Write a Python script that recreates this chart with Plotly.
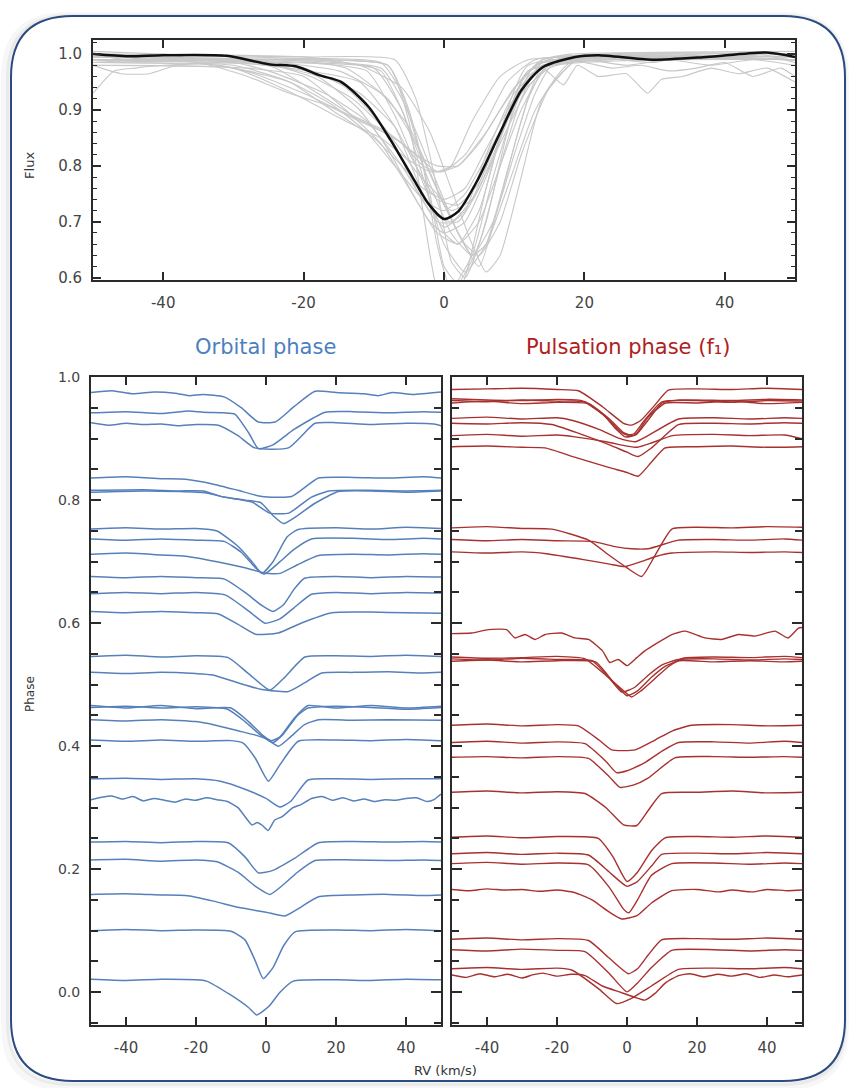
import plotly.graph_objects as go

# ---------------- DATA ----------------
# Top panel: mean profile (black) and individual profiles (grey); RV in km/s, normalised flux
MEAN_RV = [-50, -45, -40, -31, -25, -21, -17.7, -14.6, -10.7, -7.6, -4.5, -2.2, 0, 2, 4.8, 7.9, 11, 14.1, 18.7, 22, 29.6, 37.4, 45.9, 50]
MEAN_FLUX = [1.0, 0.996, 0.998, 0.997, 0.982, 0.978, 0.962, 0.95, 0.905, 0.846, 0.78, 0.732, 0.705, 0.718, 0.775, 0.857, 0.935, 0.977, 0.995, 0.998, 0.99, 0.995, 1.003, 0.995]

GREY_PROFILES = [
    ([-50, -30, -9, -6, -3, -1, 1, 4, 7, 10, 13, 50], [0.995, 0.99, 0.985, 0.93, 0.80, 0.66, 0.58, 0.64, 0.78, 0.90, 0.98, 0.99]),
    ([-50, -25, -8, -5, -2, 0, 2, 5, 8, 11, 14, 50], [0.985, 0.99, 0.98, 0.90, 0.75, 0.62, 0.59, 0.66, 0.80, 0.92, 0.985, 0.99]),
    ([-50, -20, -7, -4, -1, 1, 3, 6, 9, 12, 50], [1.0, 0.995, 0.99, 0.92, 0.76, 0.63, 0.60, 0.70, 0.86, 0.97, 0.995]),
    ([-50, -22, -10, -6, -3, 0, 3, 6, 9, 12, 15, 50], [0.99, 0.985, 0.975, 0.90, 0.78, 0.66, 0.61, 0.66, 0.79, 0.92, 0.985, 0.99]),
    ([-50, -18, -9, -6, -3, 1, 4, 7, 10, 13, 16, 50], [1.0, 0.99, 0.97, 0.90, 0.80, 0.68, 0.64, 0.70, 0.82, 0.93, 0.99, 1.0]),
    ([-50, -20, -11, -7, -3, 0, 2, 5, 8, 11, 14, 50], [0.995, 0.985, 0.97, 0.89, 0.77, 0.68, 0.66, 0.72, 0.85, 0.95, 0.99, 0.995]),
    ([-50, -20, -8, -5, -3, -1, 1, 3, 6, 9, 12, 50], [0.99, 0.99, 0.98, 0.88, 0.72, 0.58, 0.55, 0.60, 0.76, 0.90, 0.98, 0.99]),
    ([-50, -25, -9, -6, -2, 2, 5, 8, 11, 14, 50], [0.99, 0.99, 0.975, 0.92, 0.80, 0.68, 0.62, 0.74, 0.88, 0.975, 0.99]),
    ([-50, -28, -20, -14, -9, -5, -2, 0, 3, 6, 9, 12, 50], [0.98, 0.975, 0.96, 0.90, 0.84, 0.76, 0.70, 0.68, 0.70, 0.78, 0.88, 0.97, 0.99]),
    ([-50, -25, -18, -12, -8, -4, -1, 2, 5, 8, 11, 15, 50], [0.99, 0.98, 0.96, 0.90, 0.83, 0.74, 0.68, 0.66, 0.70, 0.80, 0.90, 0.98, 0.995]),
    ([-50, -30, -22, -16, -10, -6, -3, 0, 3, 6, 10, 14, 50], [0.985, 0.98, 0.95, 0.90, 0.85, 0.80, 0.76, 0.74, 0.76, 0.83, 0.92, 0.98, 0.99]),
    ([-50, -26, -19, -13, -8, -4, -1, 1, 4, 8, 12, 16, 50], [0.99, 0.985, 0.96, 0.92, 0.86, 0.79, 0.75, 0.72, 0.74, 0.84, 0.94, 0.99, 0.995]),
    ([-50, -32, -27, -20, -15, -10, -6, -3, -1, 1, 4, 8, 12, 50], [0.985, 0.98, 0.965, 0.93, 0.90, 0.87, 0.84, 0.80, 0.79, 0.80, 0.88, 0.96, 0.99, 0.99]),
    ([-50, -35, -28, -22, -17, -12, -7, -4, -1, 2, 6, 10, 14, 50], [0.99, 0.985, 0.96, 0.93, 0.91, 0.88, 0.85, 0.82, 0.79, 0.80, 0.86, 0.94, 0.985, 0.99]),
    ([-50, -30, -25, -20, -14, -9, -5, -2, 0, 3, 6, 9, 13, 50], [0.98, 0.975, 0.95, 0.92, 0.88, 0.85, 0.81, 0.79, 0.79, 0.82, 0.88, 0.95, 0.99, 0.99]),
    ([-50, -28, -24, -18, -13, -8, -4, -1, 2, 5, 8, 12, 16, 50], [0.995, 0.99, 0.975, 0.93, 0.89, 0.86, 0.82, 0.80, 0.80, 0.84, 0.90, 0.97, 0.995, 0.99]),
    ([-50, -24, -15, -9, -5, -1, 2, 4, 6, 9, 13, 18, 50], [0.99, 0.985, 0.97, 0.93, 0.87, 0.76, 0.68, 0.64, 0.66, 0.76, 0.90, 0.985, 0.99]),
    ([-50, -20, -12, -6, -2, 1, 4, 6, 8, 11, 14, 19, 50], [1.0, 0.995, 0.98, 0.94, 0.86, 0.76, 0.66, 0.61, 0.64, 0.78, 0.92, 0.99, 1.0]),
    ([-50, -22, -14, -8, -4, 0, 3, 5, 8, 11, 15, 19, 50], [0.99, 0.99, 0.975, 0.92, 0.84, 0.73, 0.66, 0.64, 0.70, 0.82, 0.94, 0.99, 0.99]),
    ([-50, -47, -44, -40, -30, -22, -12, -7, -3, 0, 3, 6, 10, 14, 17, 19, 22, 26, 29, 31, 34, 38, 42, 46, 50],
     [0.93, 0.97, 0.975, 0.98, 0.985, 0.975, 0.95, 0.87, 0.75, 0.69, 0.72, 0.82, 0.93, 0.975, 0.945, 0.98, 0.96, 0.965, 0.93, 0.955, 0.96, 0.975, 0.965, 0.975, 0.95]),
    ([-50, -46, -42, -38, -30, -25, -17, -11, -6, -2, 1, 4, 8, 12, 16, 20, 24, 28, 32, 36, 40, 44, 48, 50],
     [0.98, 0.965, 0.965, 0.98, 0.985, 0.97, 0.93, 0.88, 0.80, 0.72, 0.70, 0.74, 0.86, 0.96, 0.99, 0.985, 0.975, 0.98, 0.97, 0.975, 0.985, 0.96, 0.975, 0.96]),
    ([-50, -45, -40, -35, -28, -20, -14, -8, -4, -1, 2, 5, 9, 13, 17, 21, 25, 30, 35, 40, 45, 50],
     [1.0, 0.99, 1.0, 0.99, 0.985, 0.975, 0.94, 0.86, 0.76, 0.70, 0.70, 0.76, 0.88, 0.97, 0.99, 1.0, 0.99, 0.985, 1.0, 0.99, 1.0, 0.985]),
    ([-50, -40, -30, -24, -18, -12, -7, -4, -1, 2, 5, 8, 11, 14, 18, 50],
     [1.005, 1.0, 0.995, 0.985, 0.965, 0.93, 0.87, 0.80, 0.74, 0.73, 0.77, 0.86, 0.95, 0.99, 1.0, 1.005]),
    ([-50, -42, -35, -28, -22, -16, -11, -7, -3, 0, 3, 7, 11, 15, 20, 26, 32, 38, 44, 50],
     [0.985, 0.99, 0.985, 0.97, 0.95, 0.91, 0.86, 0.80, 0.74, 0.72, 0.75, 0.84, 0.93, 0.975, 0.99, 0.98, 0.99, 0.98, 0.99, 0.98]),
]

# Lower left: profiles stacked by orbital phase (RV, phase-offset flux)
ORBITAL_PROFILES = [
    ([-50, -44, -38, -32, -26, -22, -18, -12, -7, -2.2, 2.6, 8, 14, 20, 28, 32, 36, 42, 50],
     [0.975, 0.978, 0.973, 0.976, 0.974, 0.970, 0.972, 0.968, 0.950, 0.927, 0.927, 0.952, 0.977, 0.975, 0.973, 0.970, 0.975, 0.972, 0.976]),
    ([-50, -40, -30, -22, -18, -12, -8.9, -5, -2.2, 2, 8, 16.9, 25, 35, 45, 50],
     [0.942, 0.944, 0.941, 0.945, 0.943, 0.942, 0.940, 0.910, 0.884, 0.890, 0.915, 0.943, 0.944, 0.942, 0.944, 0.943]),
    ([-50, -45, -40, -35, -30, -25, -20, -13.6, -8, -3.2, 6.4, 14, 20, 30, 40, 48, 50],
     [0.926, 0.922, 0.925, 0.923, 0.924, 0.921, 0.923, 0.922, 0.905, 0.885, 0.885, 0.925, 0.926, 0.923, 0.925, 0.924, 0.921]),
    ([-50, -40, -30, -23, -15, -8, -1.2, 7.3, 15, 25, 35, 45, 50],
     [0.836, 0.838, 0.835, 0.834, 0.826, 0.816, 0.806, 0.806, 0.836, 0.837, 0.836, 0.838, 0.836]),
    ([-50, -35, -25, -18, -12, -4, 1, 6.5, 13, 18, 30, 40, 50],
     [0.816, 0.817, 0.815, 0.815, 0.805, 0.797, 0.779, 0.779, 0.805, 0.815, 0.816, 0.815, 0.816]),
    ([-50, -35, -25, -17.4, -12, -6, -1.5, 2, 5, 9, 14, 20.7, 30, 40, 50],
     [0.813, 0.815, 0.814, 0.812, 0.805, 0.800, 0.796, 0.775, 0.762, 0.775, 0.795, 0.814, 0.815, 0.813, 0.815]),
    ([-50, -40, -30, -20, -14, -8, -4, -1.2, 2, 6, 9, 20, 30, 40, 50],
     [0.753, 0.755, 0.753, 0.754, 0.750, 0.725, 0.700, 0.681, 0.700, 0.740, 0.752, 0.755, 0.753, 0.756, 0.754]),
    ([-50, -40, -30, -20, -12, -7, -3, -0.5, 4, 8, 13, 25, 35, 45, 50],
     [0.737, 0.735, 0.737, 0.735, 0.733, 0.715, 0.690, 0.680, 0.700, 0.720, 0.737, 0.738, 0.736, 0.738, 0.737]),
    ([-50, -40, -30, -23, -14, -6, 0, 4, 9, 15, 25, 35, 45, 50],
     [0.712, 0.714, 0.711, 0.709, 0.700, 0.690, 0.681, 0.681, 0.695, 0.710, 0.712, 0.711, 0.713, 0.712]),
    ([-50, -40, -30, -20, -12, -6, -1, 2, 5, 8, 11, 20, 30, 40, 50],
     [0.676, 0.674, 0.676, 0.674, 0.672, 0.650, 0.628, 0.619, 0.630, 0.655, 0.673, 0.676, 0.674, 0.676, 0.675]),
    ([-50, -40, -30, -20, -11.7, -5, -0.3, 4, 8, 13, 20, 30, 40, 50],
     [0.648, 0.650, 0.648, 0.650, 0.646, 0.620, 0.600, 0.607, 0.625, 0.647, 0.650, 0.648, 0.650, 0.649]),
    ([-50, -40, -30, -20, -13.6, -8, -3, 3.5, 10, 18.8, 30, 40, 50],
     [0.619, 0.617, 0.619, 0.617, 0.615, 0.598, 0.582, 0.584, 0.600, 0.617, 0.618, 0.617, 0.616]),
    ([-50, -40, -30, -20, -10.8, -5, 1.1, 5, 11.1, 20, 30, 40, 50],
     [0.546, 0.548, 0.545, 0.547, 0.544, 0.518, 0.491, 0.510, 0.545, 0.547, 0.546, 0.548, 0.546]),
    ([-50, -40, -30, -20, -15.5, -8, -1.2, 6.4, 11, 15.9, 25, 35, 45, 50],
     [0.520, 0.518, 0.520, 0.518, 0.516, 0.503, 0.492, 0.489, 0.503, 0.519, 0.520, 0.521, 0.519, 0.520]),
    ([-50, -40, -30, -20, -11, -6, -2, 2, 5, 9, 12, 20, 30, 40, 50],
     [0.463, 0.465, 0.462, 0.464, 0.460, 0.440, 0.420, 0.406, 0.420, 0.450, 0.462, 0.465, 0.463, 0.460, 0.463]),
    ([-50, -40, -30, -20, -10, -5, -1, 1.5, 4, 8, 12, 20, 30, 40, 50],
     [0.466, 0.462, 0.466, 0.461, 0.462, 0.440, 0.418, 0.409, 0.415, 0.445, 0.466, 0.462, 0.466, 0.462, 0.465]),
    ([-50, -40, -30, -20, -15, -8, -3, 0, 3.6, 7, 11, 15, 25, 35, 50],
     [0.443, 0.441, 0.443, 0.440, 0.435, 0.425, 0.418, 0.412, 0.400, 0.415, 0.435, 0.443, 0.442, 0.443, 0.442]),
    ([-50, -40, -30, -20, -10, -6.5, -3, 0.7, 4, 9.2, 20, 30, 40, 50],
     [0.410, 0.408, 0.410, 0.408, 0.409, 0.405, 0.380, 0.343, 0.370, 0.408, 0.410, 0.409, 0.411, 0.409]),
    ([-50, -40, -30, -20, -13, -6, 0, 4, 7, 12, 20, 30, 40, 50],
     [0.347, 0.348, 0.346, 0.347, 0.343, 0.330, 0.315, 0.301, 0.310, 0.345, 0.347, 0.346, 0.347, 0.347]),
    ([-50, -47, -44, -41, -38, -35, -32, -29, -26, -23, -20, -17, -14, -11, -8, -4, -2.5, -1, 0.6, 2.5, 4.5, 7.7, 10, 13, 16, 19, 22, 25, 28, 31, 34, 37, 40, 43, 46, 48, 50],
     [0.313, 0.317, 0.319, 0.314, 0.318, 0.311, 0.315, 0.312, 0.309, 0.314, 0.312, 0.316, 0.313, 0.310, 0.300, 0.272, 0.276, 0.271, 0.263, 0.280, 0.285, 0.300, 0.305, 0.315, 0.318, 0.312, 0.316, 0.311, 0.314, 0.310, 0.313, 0.312, 0.315, 0.316, 0.310, 0.313, 0.322]),
    ([-50, -40, -30, -20, -10.8, -6, -2.2, 2, 8, 15, 25, 35, 45, 50],
     [0.244, 0.245, 0.243, 0.245, 0.243, 0.220, 0.194, 0.198, 0.217, 0.243, 0.245, 0.244, 0.245, 0.244]),
    ([-50, -40, -30, -20, -14, -8, -3, 1.1, 5, 9, 14, 25, 35, 45, 50],
     [0.215, 0.216, 0.213, 0.215, 0.212, 0.195, 0.172, 0.159, 0.175, 0.195, 0.214, 0.215, 0.214, 0.215, 0.214]),
    ([-50, -40, -30, -23, -15, -8, 0, 5.4, 9, 15, 25, 35, 45, 50],
     [0.159, 0.160, 0.158, 0.157, 0.148, 0.138, 0.130, 0.124, 0.135, 0.155, 0.158, 0.159, 0.157, 0.158]),
    ([-50, -40, -30, -20, -10, -6, -3, -0.8, 2, 5, 8.3, 20, 30, 40, 50],
     [0.100, 0.102, 0.100, 0.101, 0.099, 0.085, 0.050, 0.022, 0.040, 0.075, 0.098, 0.101, 0.100, 0.102, 0.100]),
    ([-50, -40, -30, -20, -17, -10, -5, -2.7, 1, 4, 7.8, 20, 30, 40, 50],
     [0.021, 0.019, 0.021, 0.020, 0.018, -0.005, -0.025, -0.037, -0.022, 0.000, 0.018, 0.020, 0.019, 0.021, 0.020]),
]

# Lower right: profiles stacked by pulsation phase (f1)
PULSATION_PROFILES = [
    ([-50, -40, -30, -20, -13.9, -7, -1, 1.3, 4, 8, 11.8, 20, 30, 40, 50],
     [0.980, 0.981, 0.982, 0.980, 0.978, 0.952, 0.925, 0.922, 0.930, 0.955, 0.979, 0.981, 0.980, 0.982, 0.980]),
    ([-50, -40, -30, -20, -12, -6, -2, 0, 2, 5, 10, 20, 30, 40, 50],
     [0.962, 0.960, 0.963, 0.961, 0.960, 0.935, 0.912, 0.906, 0.908, 0.930, 0.960, 0.962, 0.959, 0.962, 0.961]),
    ([-50, -40, -30, -20, -11, -5, -1, 1.5, 3, 6, 11, 20, 30, 40, 50],
     [0.958, 0.961, 0.957, 0.959, 0.957, 0.932, 0.910, 0.905, 0.910, 0.935, 0.958, 0.958, 0.961, 0.957, 0.959]),
    ([-50, -40, -30, -20, -13, -7, -3, -0.5, 2.5, 6, 10, 15, 30, 40, 50],
     [0.965, 0.963, 0.962, 0.964, 0.962, 0.940, 0.915, 0.903, 0.906, 0.930, 0.958, 0.963, 0.962, 0.964, 0.963]),
    ([-50, -40, -30, -20, -15.8, -8, -2, 2.3, 6, 14.7, 25, 35, 45, 50],
     [0.933, 0.935, 0.932, 0.934, 0.930, 0.915, 0.900, 0.895, 0.905, 0.932, 0.934, 0.932, 0.934, 0.933]),
    ([-50, -40, -30, -21.5, -12, -5, 0, 3.2, 7, 14.7, 25, 35, 45, 50],
     [0.925, 0.924, 0.926, 0.923, 0.905, 0.890, 0.878, 0.871, 0.885, 0.923, 0.925, 0.924, 0.926, 0.925]),
    ([-50, -40, -30, -20, -14.9, -6, 0, 3, 7, 13, 25, 35, 45, 50],
     [0.905, 0.907, 0.904, 0.906, 0.903, 0.895, 0.888, 0.886, 0.893, 0.905, 0.907, 0.905, 0.906, 0.900]),
    ([-50, -40, -30, -23.4, -15, -5, 0, 3.2, 7, 10.9, 20, 30, 40, 50],
     [0.887, 0.888, 0.886, 0.885, 0.870, 0.853, 0.845, 0.839, 0.862, 0.885, 0.887, 0.888, 0.886, 0.887]),
    ([-50, -40, -30, -21.5, -11, -5, 0, 4.2, 8, 12.8, 20, 30, 40, 50],
     [0.755, 0.757, 0.754, 0.753, 0.735, 0.710, 0.690, 0.676, 0.710, 0.753, 0.756, 0.755, 0.757, 0.756]),
    ([-50, -40, -30, -20, -10, -3, 1.3, 6, 14.7, 25, 35, 45, 50],
     [0.736, 0.734, 0.736, 0.734, 0.733, 0.724, 0.721, 0.721, 0.735, 0.736, 0.735, 0.737, 0.735]),
    ([-50, -40, -30, -23, -12, -5, -0.6, 4, 8, 12.8, 25, 35, 45, 50],
     [0.716, 0.714, 0.716, 0.713, 0.703, 0.696, 0.692, 0.700, 0.708, 0.714, 0.716, 0.715, 0.716, 0.715]),
    ([-50, -44.4, -39.6, -34.4, -32, -29.1, -26.3, -23.4, -18.7, -14.9, -11, -7, -4.9, -2.5, 0, 2.8, 5.1, 8, 12.8, 16.6, 22.3, 27, 31.8, 36.6, 42.3, 46, 49, 50],
     [0.583, 0.584, 0.5895, 0.5895, 0.576, 0.5815, 0.5735, 0.5815, 0.584, 0.576, 0.5735, 0.555, 0.536, 0.541, 0.531, 0.544, 0.555, 0.5656, 0.5815, 0.587, 0.576, 0.5735, 0.5815, 0.579, 0.587, 0.576, 0.592, 0.593]),
    ([-50, -40, -30, -20, -10, -5, -1.5, 2, 6, 10, 14.7, 25, 35, 45, 50],
     [0.542, 0.540, 0.543, 0.541, 0.539, 0.510, 0.488, 0.495, 0.515, 0.532, 0.541, 0.542, 0.540, 0.542, 0.541]),
    ([-50, -40, -30, -20, -9, -4, 0, 3, 7, 11, 15, 25, 35, 45, 50],
     [0.538, 0.540, 0.537, 0.539, 0.537, 0.505, 0.482, 0.490, 0.512, 0.530, 0.539, 0.537, 0.539, 0.537, 0.538]),
    ([-50, -40, -30, -20, -12, -6, -1, 1.3, 4, 8, 12, 16, 25, 35, 45, 50],
     [0.545, 0.543, 0.544, 0.546, 0.542, 0.515, 0.490, 0.480, 0.490, 0.510, 0.530, 0.543, 0.545, 0.544, 0.546, 0.544]),
    ([-50, -40, -30, -20, -13.9, -8, -4.4, 2.3, 8, 13, 18.5, 30, 40, 50],
     [0.434, 0.436, 0.433, 0.435, 0.433, 0.410, 0.394, 0.394, 0.410, 0.425, 0.434, 0.435, 0.433, 0.434]),
    ([-50, -40, -30, -20, -12, -6, -3, 0, 5, 10, 14.7, 25, 35, 45, 50],
     [0.406, 0.408, 0.405, 0.407, 0.404, 0.375, 0.357, 0.360, 0.373, 0.392, 0.406, 0.407, 0.405, 0.408, 0.406]),
    ([-50, -40, -30, -20, -11, -5, -2, 2, 6, 13.7, 25, 35, 45, 50],
     [0.382, 0.383, 0.381, 0.383, 0.380, 0.350, 0.333, 0.337, 0.348, 0.381, 0.383, 0.382, 0.383, 0.382]),
    ([-50, -40, -30, -20, -12, -6, -1, 2.8, 6, 9.9, 20, 30, 40, 50],
     [0.325, 0.327, 0.324, 0.326, 0.323, 0.300, 0.272, 0.271, 0.295, 0.323, 0.325, 0.327, 0.324, 0.325]),
    ([-50, -40, -30, -20, -8.2, -4, 0, 3, 7, 10.9, 20, 30, 40, 50],
     [0.252, 0.254, 0.251, 0.253, 0.250, 0.220, 0.180, 0.195, 0.230, 0.251, 0.253, 0.252, 0.254, 0.252]),
    ([-50, -40, -30, -20, -11, -5, 0, 3, 7, 9.9, 20, 30, 40, 50],
     [0.225, 0.227, 0.224, 0.226, 0.223, 0.195, 0.172, 0.180, 0.205, 0.224, 0.226, 0.225, 0.227, 0.225]),
    ([-50, -40, -30, -20, -11, -5, -1, 0.5, 3, 7, 12.8, 25, 35, 45, 50],
     [0.209, 0.211, 0.208, 0.210, 0.207, 0.170, 0.135, 0.129, 0.150, 0.190, 0.209, 0.210, 0.208, 0.210, 0.209]),
    ([-50, -45, -40, -35, -30, -25, -20, -15, -10, -5, -1.5, 3, 7, 12.8, 20, 26, 30, 36, 40, 46, 50],
     [0.167, 0.165, 0.168, 0.166, 0.167, 0.164, 0.166, 0.162, 0.150, 0.130, 0.119, 0.125, 0.145, 0.165, 0.167, 0.163, 0.166, 0.163, 0.167, 0.165, 0.166]),
    ([-50, -40, -30, -20, -11, -5, 0.4, 3, 6, 9.9, 20, 30, 40, 50],
     [0.086, 0.088, 0.085, 0.087, 0.084, 0.055, 0.030, 0.038, 0.060, 0.085, 0.087, 0.086, 0.088, 0.086]),
    ([-50, -40, -30, -20, -12, -5, 0, 3, 7, 12.8, 25, 35, 45, 50],
     [0.069, 0.067, 0.070, 0.068, 0.066, 0.030, 0.0005, 0.015, 0.040, 0.068, 0.069, 0.067, 0.069, 0.068]),
    ([-50, -40, -30, -20, -15.8, -8, -3, 1.3, 7, 14.7, 25, 35, 45, 50],
     [0.038, 0.040, 0.037, 0.039, 0.036, 0.005, -0.0185, -0.010, 0.010, 0.037, 0.039, 0.038, 0.040, 0.038]),
    ([-50, -46, -42, -38, -34, -30, -27, -24, -20, -16, -12, -7, -2, 2, 5.1, 8, 11, 14.7, 18, 22, 26, 30, 34, 38, 42, 46, 50],
     [0.028, 0.024, 0.030, 0.025, 0.029, 0.023, 0.028, 0.031, 0.026, 0.029, 0.027, 0.010, 0.000, -0.008, -0.013, -0.002, 0.015, 0.027, 0.030, 0.025, 0.029, 0.026, 0.030, 0.024, 0.028, 0.025, 0.028]),
]

RV_TICKS = [-40, -20, 0, 20, 40]
RV_TICK_TEXT = ['-40', '-20', '0', '20', '40']
FLUX_TICKS = [0.6, 0.7, 0.8, 0.9, 1.0]
FLUX_TICK_TEXT = ['0.6', '0.7', '0.8', '0.9', '1.0']
PHASE_TICKS = [0.0, 0.2, 0.4, 0.6, 0.8, 1.0]
PHASE_TICK_TEXT = ['0.0', '0.2', '0.4', '0.6', '0.8', '1.0']

# ---------------- FIGURE ----------------
W, H = 851, 1088


def px(x):
    return x / W


def py(y):
    return 1 - y / H


BLUE = '#5680bb'
RED = '#a8312f'
AX = '#2a2a2a'
FONT = 'DejaVu Sans'
TICK_COL = '#444444'

fig = go.Figure()

for rv, fl in GREY_PROFILES:
    fig.add_trace(go.Scatter(x=rv, y=fl, mode='lines', xaxis='x', yaxis='y',
                             line=dict(color='#c8c8c8', width=1.1, shape='spline', smoothing=0.5),
                             hoverinfo='skip', showlegend=False))
fig.add_trace(go.Scatter(x=MEAN_RV, y=MEAN_FLUX, mode='lines', xaxis='x', yaxis='y',
                         line=dict(color='#111111', width=2.5, shape='spline', smoothing=0.7),
                         showlegend=False))

for rv, ph in ORBITAL_PROFILES:
    fig.add_trace(go.Scatter(x=rv, y=ph, mode='lines', xaxis='x2', yaxis='y2',
                             line=dict(color=BLUE, width=1.5, shape='spline', smoothing=0.5),
                             showlegend=False))
for rv, ph in PULSATION_PROFILES:
    fig.add_trace(go.Scatter(x=rv, y=ph, mode='lines', xaxis='x3', yaxis='y3',
                             line=dict(color=RED, width=1.4, shape='spline', smoothing=0.5),
                             showlegend=False))

common_x = dict(range=[-50, 50], tickvals=RV_TICKS, ticktext=RV_TICK_TEXT, ticks='inside', ticklen=8,
                tickwidth=1.5, tickcolor=AX, showline=True, linecolor=AX, linewidth=2, mirror='ticks',
                showgrid=False, zeroline=False, tickfont=dict(family=FONT, size=15, color=TICK_COL),
                ticklabelstandoff=8)

lo_y_top, lo_y_bot = 374, 1030

fig.update_layout(
    width=W, height=H, margin=dict(l=0, r=0, t=0, b=0),
    paper_bgcolor='white', plot_bgcolor='white', showlegend=False,
    xaxis=dict(domain=[px(93), px(795)], anchor='y', **common_x),
    yaxis=dict(domain=[py(276), py(32)], range=[0.595, 1.026], anchor='x',
               tickvals=FLUX_TICKS, ticktext=FLUX_TICK_TEXT,
               ticks='inside', ticklen=8, tickwidth=1.5, tickcolor=AX,
               minor=dict(dtick=0.02, tick0=0.6, ticks='inside', ticklen=4, tickcolor=AX, tickwidth=1),
               showline=True, linecolor=AX, linewidth=2, mirror='ticks', showgrid=False, zeroline=False,
               tickfont=dict(family=FONT, size=15, color=TICK_COL), ticklabelstandoff=6),
    xaxis2=dict(domain=[px(91), px(441)], anchor='y2', **common_x),
    yaxis2=dict(domain=[py(lo_y_bot), py(lo_y_top)], range=[-0.053, 1.0], anchor='x2',
                tickvals=PHASE_TICKS, ticktext=PHASE_TICK_TEXT,
                ticks='inside', ticklen=10, tickwidth=2, tickcolor=AX,
                minor=dict(dtick=0.05, tick0=0, ticks='inside', ticklen=7, tickcolor=AX, tickwidth=1.5),
                showline=True, linecolor=AX, linewidth=2, mirror='ticks', showgrid=False, zeroline=False,
                tickfont=dict(family=FONT, size=14, color=TICK_COL), ticklabelstandoff=6),
    xaxis3=dict(domain=[px(452), px(802)], anchor='y3', **common_x),
    yaxis3=dict(domain=[py(lo_y_bot), py(lo_y_top)], range=[-0.053, 1.0], anchor='x3',
                tickvals=PHASE_TICKS, showticklabels=False,
                ticks='inside', ticklen=10, tickwidth=2, tickcolor=AX,
                minor=dict(dtick=0.05, tick0=0, ticks='inside', ticklen=7, tickcolor=AX, tickwidth=1.5),
                showline=True, linecolor=AX, linewidth=2, mirror='ticks', showgrid=False, zeroline=False),
)


def rrect(x0, y0, x1, y1, r):
    return (f"M {px(x0 + r)},{py(y0)} L {px(x1 - r)},{py(y0)} "
            f"Q {px(x1)},{py(y0)} {px(x1)},{py(y0 + r)} L {px(x1)},{py(y1 - r)} "
            f"Q {px(x1)},{py(y1)} {px(x1 - r)},{py(y1)} L {px(x0 + r)},{py(y1)} "
            f"Q {px(x0)},{py(y1)} {px(x0)},{py(y1 - r)} L {px(x0)},{py(y0 + r)} "
            f"Q {px(x0)},{py(y0)} {px(x0 + r)},{py(y0)} Z")


shapes = []
# soft shadow just outside the frame (left / bottom)
for off, alpha, w in [(6, 0.03, 8), (3, 0.05, 4)]:
    shapes.append(dict(type='path', xref='paper', yref='paper', layer='below',
                       path=rrect(11 - off, 8, 845, 1087 + off, 62),
                       line=dict(color=f'rgba(0,0,0,{alpha})', width=w)))
shapes.append(dict(type='path', xref='paper', yref='paper', layer='below',
                   path=rrect(11, 8, 845, 1087, 62), fillcolor='white',
                   line=dict(color='#2c4b80', width=2)))
fig.update_layout(shapes=shapes)

ann = [
    dict(text='Flux', x=px(30), y=py(160), textangle=-90, font=dict(family=FONT, size=13, color='#333')),
    dict(text='Phase', x=px(30), y=py(695), textangle=-90, font=dict(family=FONT, size=12, color='#333')),
    dict(text='RV (km/s)', x=px(445), y=py(1076), font=dict(family=FONT, size=13, color='#333')),
    dict(text='Orbital phase', x=px(265), y=py(343), font=dict(family=FONT, size=21, color='#4d7fbf')),
    dict(text='Pulsation phase (f₁)', x=px(628), y=py(343), font=dict(family=FONT, size=21, color='#b0201c')),
]
for a in ann:
    a.update(xref='paper', yref='paper', showarrow=False, xanchor='center', yanchor='middle')
fig.update_layout(annotations=ann)

fig.write_html('out.html')
